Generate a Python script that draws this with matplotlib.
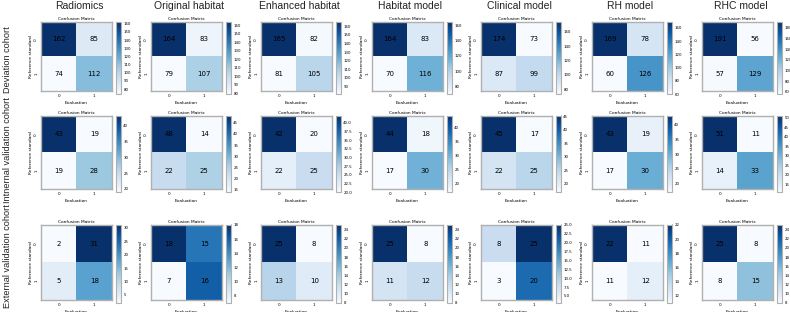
import numpy as np
import matplotlib
matplotlib.use("Agg")
import matplotlib.pyplot as plt

models = ["Radiomics", "Original habitat", "Enhanced habitat", "Habitat model",
          "Clinical model", "RH model", "RHC model"]
cohorts = ["Deviation cohort", "Intnernal validation cohort", "External validation cohort"]

# confusion matrices [[TN, FP], [FN, TP]] per cohort, per model
deviation = [
    [[162, 85], [74, 112]],
    [[164, 83], [79, 107]],
    [[165, 82], [81, 105]],
    [[164, 83], [70, 116]],
    [[174, 73], [87, 99]],
    [[169, 78], [60, 126]],
    [[191, 56], [57, 129]],
]
internal = [
    [[43, 19], [19, 28]],
    [[48, 14], [22, 25]],
    [[42, 20], [22, 25]],
    [[44, 18], [17, 30]],
    [[45, 17], [22, 25]],
    [[43, 19], [17, 30]],
    [[51, 11], [14, 33]],
]
external = [
    [[2, 31], [5, 18]],
    [[18, 15], [7, 16]],
    [[25, 8], [13, 10]],
    [[25, 8], [11, 12]],
    [[8, 25], [3, 20]],
    [[22, 11], [11, 12]],
    [[25, 8], [8, 15]],
]
all_data = [deviation, internal, external]

W, H = 790, 312
fig = plt.figure(figsize=(W / 100, H / 100), dpi=100)

col_x = [41, 151, 261, 372, 481, 592, 702]
row_y = [(22, 91), (116, 189), (225, 300)]
hm_w = 71

for r, cohort_data in enumerate(all_data):
    y0, y1 = row_y[r]
    for c, cm in enumerate(cohort_data):
        cm = np.array(cm)
        x0 = col_x[c]
        ax = fig.add_axes([x0 / W, 1 - y1 / H, hm_w / W, (y1 - y0) / H])
        im = ax.imshow(cm, cmap="Blues", aspect="auto", vmin=cm.min(), vmax=cm.max())
        for i in range(2):
            for j in range(2):
                ax.text(j, i, str(cm[i, j]), ha="center", va="center",
                        fontsize=5, color="black")
        ax.set_xticks([0, 1])
        ax.set_yticks([0, 1])
        ax.set_xticklabels(["0", "1"])
        ax.set_yticklabels(["0", "1"], rotation=90, va="center")
        ax.tick_params(labelsize=3, length=0, pad=2)
        ax.set_title("Confusion Matrix", fontsize=3.2, pad=1.5)
        ax.set_xlabel("Evaluation", fontsize=3.2, labelpad=2)
        ax.set_ylabel("Reference standard", fontsize=3.2, labelpad=1)
        for s in ax.spines.values():
            s.set_color("#b0b0b0")
            s.set_linewidth(1.0)

        cax = fig.add_axes([(x0 + hm_w + 4) / W, 1 - (y1 + 3) / H, 4.5 / W, (y1 - y0 + 3) / H])
        cb = fig.colorbar(im, cax=cax)
        cb.ax.tick_params(labelsize=2.8, length=1, width=0.3, pad=1)
        cb.outline.set_edgecolor("#b0b0b0")
        cb.outline.set_linewidth(0.8)

for c, name in enumerate(models):
    fig.text((col_x[c] + hm_w / 2 + 3) / W, 1 - 6 / H, name, ha="center", va="center",
             fontsize=7.5, family="Liberation Sans", color="#222222")

row_label_y = [60, 150, 256]
for r, name in enumerate(cohorts):
    fig.text(8 / W, 1 - row_label_y[r] / H, name, ha="center", va="center",
             rotation=90, fontsize=6.6, family="Liberation Sans", color="#222222")

fig.savefig("out.png", dpi=100)
